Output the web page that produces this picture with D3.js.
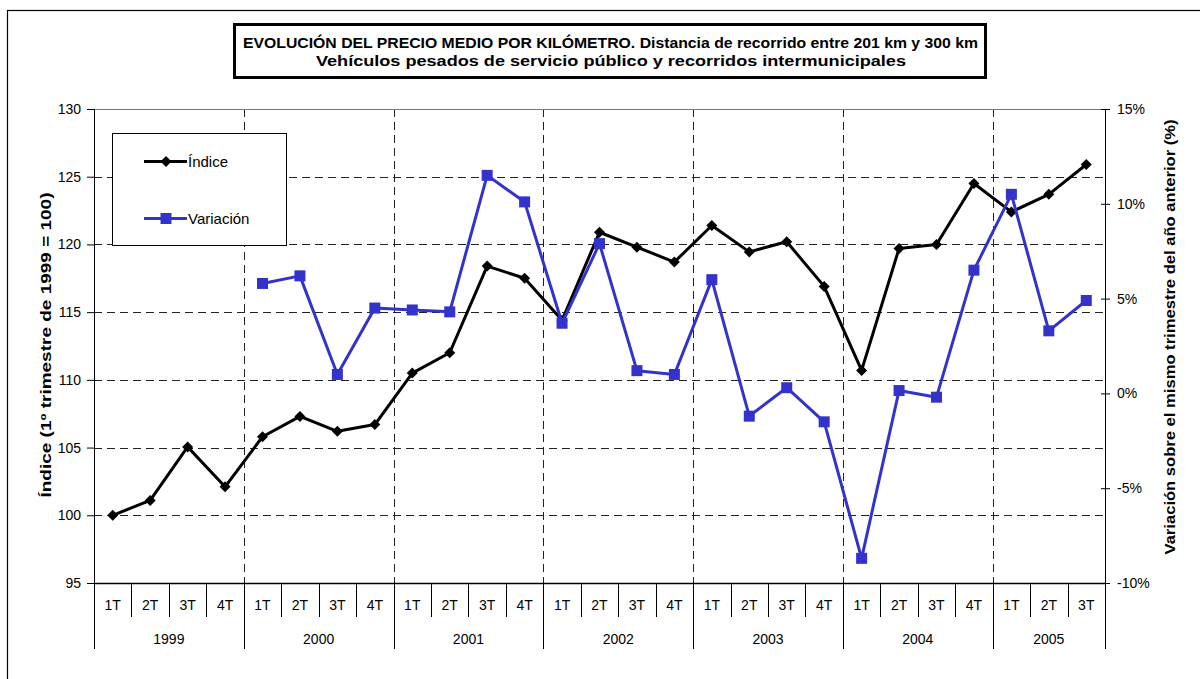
<!DOCTYPE html>
<html>
<head>
<meta charset="utf-8">
<script src="https://cdn.jsdelivr.net/npm/d3@7"></script>
<style>
  body { margin: 0; background: #fff; }
  svg text { font-family: "Liberation Sans", Arial, sans-serif; }
</style>
</head>
<body>
<div id="vis"></div>
<script>
const years = ['1999', '2000', '2001', '2002', '2003', '2004', '2005']
const quarters = ['1T', '2T', '3T', '4T']
const indice = [100.0, 101.1, 105.05, 102.1, 105.8, 107.3, 106.2, 106.7, 110.5, 112.0, 118.4, 117.5,
    114.4, 120.9, 119.8, 118.7, 121.4, 119.45, 120.2, 116.9, 110.7, 119.7, 120.0, 124.5,
    122.4, 123.7, 125.9]
const variacion = [null, null, null, null, 5.8, 6.2, 1.0, 4.5, 4.4, 4.3, 11.5, 10.1,
    3.7, 7.9, 1.2, 1.0, 6.0, -1.2, 0.3, -1.5, -8.7, 0.15, -0.2, 6.5,
    10.5, 3.3, 4.9]
const leftTicks = [95, 100, 105, 110, 115, 120, 125, 130]
const rightTicks = [-10, -5, 0, 5, 10, 15]

const margin = { top: 109, left: 94 }
const width = 1011, height = 474

// categories: one per quarter, 1999 1T .. 2005 3T
const cats = []
years.forEach(y => quarters.forEach(q => cats.push({ key: y + q, year: y, q: q })))
cats.length = indice.length

const svg = d3.select('#vis').append('svg')
    .attr('width', 1200).attr('height', 679)

// outer frame
svg.append('rect')
    .attr('x', 7.5).attr('y', 10.5).attr('width', 1200).attr('height', 700)
    .attr('fill', 'none').attr('stroke', '#000').attr('stroke-width', 1.2)

// title box
svg.append('rect')
    .attr('x', 234.5).attr('y', 24.5).attr('width', 751).attr('height', 53)
    .attr('fill', '#fff').attr('stroke', '#000').attr('stroke-width', 3)
svg.append('text').attr('x', 610.5).attr('y', 47.5).attr('text-anchor', 'middle')
    .attr('font-size', '15px').attr('font-weight', 'bold')
    .attr('textLength', 735).attr('lengthAdjust', 'spacingAndGlyphs')
    .text('EVOLUCIÓN DEL PRECIO MEDIO POR KILÓMETRO. Distancia de recorrido entre 201 km y 300 km')
svg.append('text').attr('x', 611).attr('y', 65.5).attr('text-anchor', 'middle')
    .attr('font-size', '15px').attr('font-weight', 'bold')
    .attr('textLength', 590).attr('lengthAdjust', 'spacingAndGlyphs')
    .text('Vehículos pesados de servicio público y recorridos intermunicipales')

const g = svg.append('g').attr('transform', `translate(${margin.left},${margin.top})`)

const x = d3.scaleBand().domain(cats.map(d => d.key)).range([0, width]).padding(0)
const yL = d3.scaleLinear().domain([95, 130]).range([height, 0])
const yR = d3.scaleLinear().domain([-10, 15]).range([height, 0])

// horizontal dashed grid
g.selectAll('.hgrid').data(leftTicks.filter(d => d > 95 && d < 130)).join('line')
    .attr('class', 'hgrid')
    .attr('x1', 0).attr('x2', width)
    .attr('y1', d => Math.round(yL(d)) + 0.5).attr('y2', d => Math.round(yL(d)) + 0.5)
    .attr('stroke', '#222').attr('stroke-dasharray', '8,5')

// vertical dashed grid at year boundaries
const yearStarts = cats.filter(d => d.q === '1T' && d.year !== '1999')
g.selectAll('.vgrid').data(yearStarts).join('line')
    .attr('class', 'vgrid')
    .attr('x1', d => Math.round(x(d.key)) + 0.5).attr('x2', d => Math.round(x(d.key)) + 0.5)
    .attr('y1', 0).attr('y2', height)
    .attr('stroke', '#222').attr('stroke-dasharray', '8,5')

// top border of plot
g.append('line').attr('x1', 0).attr('x2', width).attr('y1', 0.5).attr('y2', 0.5)
    .attr('stroke', '#777')

// left axis
const leftAxis = g.append('g')
    .call(d3.axisLeft(yL).tickValues(leftTicks).tickSize(7).tickPadding(6))
leftAxis.select('.domain').attr('d', `M0.5,0V${height + 66}`).attr('stroke', '#000')
leftAxis.selectAll('text').attr('font-size', '14px').attr('font-family', 'Liberation Sans, Arial, sans-serif')

// right axis
const rightAxis = g.append('g').attr('transform', `translate(${width},0)`)
    .call(d3.axisRight(yR).tickValues(rightTicks).tickSize(5).tickPadding(7).tickFormat(d => d + '%'))
rightAxis.select('.domain').attr('d', `M0.5,0V${height + 66}`).attr('stroke', '#000')
rightAxis.selectAll('.tick line').attr('x1', -4)
rightAxis.selectAll('text').attr('font-size', '14px').attr('font-family', 'Liberation Sans, Arial, sans-serif')

// bottom axis line
g.append('line').attr('x1', 0).attr('x2', width).attr('y1', height + 0.5).attr('y2', height + 0.5)
    .attr('stroke', '#000').attr('stroke-width', 1.5)

// quarter dividers and labels
g.selectAll('.qdiv').data(cats.slice(1)).join('line')
    .attr('class', 'qdiv')
    .attr('x1', d => Math.round(x(d.key)) + 0.5).attr('x2', d => Math.round(x(d.key)) + 0.5)
    .attr('y1', height).attr('y2', d => d.q === '1T' ? height + 66 : height + 34)
    .attr('stroke', '#000')
g.selectAll('.qlab').data(cats).join('text')
    .attr('class', 'qlab')
    .attr('x', d => x(d.key) + x.bandwidth() / 2).attr('y', height + 27)
    .attr('text-anchor', 'middle').attr('font-size', '14px')
    .text(d => d.q)

// year labels
g.selectAll('.ylab').data(years).join('text')
    .attr('class', 'ylab')
    .attr('x', y => {
        const c = cats.filter(d => d.year === y)
        return (x(c[0].key) + x(c[c.length - 1].key) + x.bandwidth()) / 2
    })
    .attr('y', height + 61)
    .attr('text-anchor', 'middle').attr('font-size', '14px')
    .text(y => y)

// axis titles
svg.append('text')
    .attr('transform', 'translate(51,345) rotate(-90)')
    .attr('text-anchor', 'middle').attr('font-size', '14px').attr('font-weight', 'bold')
    .attr('textLength', 305).attr('lengthAdjust', 'spacingAndGlyphs')
    .text('Índice (1º trimestre de 1999 = 100)')
svg.append('text')
    .attr('transform', 'translate(1175,337) rotate(-90)')
    .attr('text-anchor', 'middle').attr('font-size', '14px').attr('font-weight', 'bold')
    .attr('textLength', 435).attr('lengthAdjust', 'spacingAndGlyphs')
    .text('Variación sobre el mismo trimestre del año anterior (%)')

const cx = d => x(d.key) + x.bandwidth() / 2
const blue = '#3333CC'

// Índice line
const idxData = cats.map((c, i) => ({ key: c.key, v: indice[i] }))
g.append('path').datum(idxData)
    .attr('fill', 'none').attr('stroke', '#000').attr('stroke-width', 3)
    .attr('stroke-linejoin', 'round')
    .attr('d', d3.line().x(cx).y(d => yL(d.v)))
g.selectAll('.dia').data(idxData).join('path')
    .attr('class', 'dia')
    .attr('transform', d => `translate(${cx(d)},${yL(d.v)})`)
    .attr('d', 'M0,-5.5L5.5,0L0,5.5L-5.5,0Z')
    .attr('fill', '#000')

// Variación line
const varData = cats.map((c, i) => ({ key: c.key, v: variacion[i] })).filter(d => d.v !== null)
g.append('path').datum(varData)
    .attr('fill', 'none').attr('stroke', blue).attr('stroke-width', 3)
    .attr('stroke-linejoin', 'round')
    .attr('d', d3.line().x(cx).y(d => yR(d.v)))
g.selectAll('.sq').data(varData).join('rect')
    .attr('class', 'sq')
    .attr('x', d => cx(d) - 5.5).attr('y', d => yR(d.v) - 5.5)
    .attr('width', 11).attr('height', 11)
    .attr('fill', blue)

// legend
const lg = svg.append('g')
lg.append('rect').attr('x', 112.5).attr('y', 133.5).attr('width', 174).attr('height', 112)
    .attr('fill', '#fff').attr('stroke', '#000')
lg.append('line').attr('x1', 144).attr('x2', 187).attr('y1', 161.5).attr('y2', 161.5)
    .attr('stroke', '#000').attr('stroke-width', 3)
lg.append('path').attr('transform', 'translate(166,161.5)')
    .attr('d', 'M0,-5.5L5.5,0L0,5.5L-5.5,0Z').attr('fill', '#000')
lg.append('text').attr('x', 188).attr('y', 167).attr('font-size', '15px').text('Índice')
lg.append('line').attr('x1', 144).attr('x2', 187).attr('y1', 218.5).attr('y2', 218.5)
    .attr('stroke', blue).attr('stroke-width', 3)
lg.append('rect').attr('x', 160.5).attr('y', 213).attr('width', 11).attr('height', 11)
    .attr('fill', blue)
lg.append('text').attr('x', 188).attr('y', 224).attr('font-size', '15px').text('Variación')
</script>
</body>
</html>
